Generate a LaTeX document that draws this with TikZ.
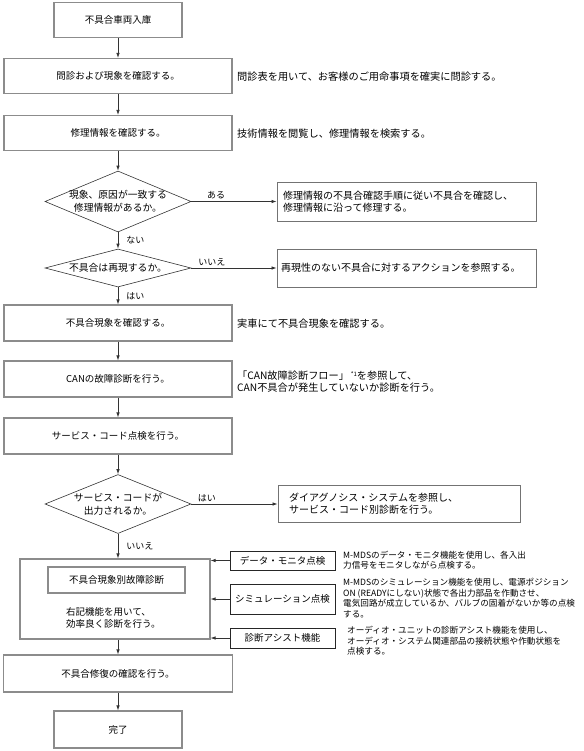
\documentclass[tikz,border=0pt]{standalone}
\usepackage{fontspec}
\newfontfamily\jpfont{Noto Sans CJK JP}
\usetikzlibrary{arrows.meta, positioning, shapes.geometric}

\begin{document}
\begin{tikzpicture}[
    x=1pt, y=-1pt,
    every node/.style={font=\jpfont\fontsize{9.5}{12}\selectfont, inner sep=0pt},
    proc/.style={draw=black!45, line width=1.1pt, minimum width=228pt, minimum height=35pt},
    term/.style={proc, minimum width=128pt},
    decision/.style={diamond, draw=black!80, line width=0.6pt, minimum width=146pt},
    dtext/.style={align=center, font=\jpfont\fontsize{9.8}{13}\selectfont},
    note/.style={draw=black!55, line width=0.9pt, align=left, inner xsep=6pt, text width=247pt,
        font=\jpfont\fontsize{10}{12}\selectfont},
    tool/.style={draw=black!85, line width=0.7pt, minimum width=105pt},
    remark/.style={anchor=west, align=left, font=\jpfont\fontsize{10.2}{12}\selectfont},
    small/.style={anchor=west, align=left, font=\jpfont\fontsize{8.6}{10.5}\selectfont},
    lbl/.style={font=\jpfont\fontsize{9}{10}\selectfont, inner sep=2pt},
    arr/.style={draw=black!80, line width=0.7pt, -{Latex[length=5pt, width=3.5pt]}}
]
    \useasboundingbox (0,0) rectangle (583,751);

    \node[term] (start) at (118, 20) {不具合車両入庫};
    \node[proc] (ask) at (118, 76) {問診および現象を確認する。};
    \node[proc] (info) at (118, 133) {修理情報を確認する。};
    \node[decision, minimum height=61pt,
        label={[dtext]center:現象、原因が一致する\\修理情報があるか。}] (d1) at (118, 201.5) {};
    \node[decision, minimum height=38pt,
        label={[dtext]center:不具合は再現するか。}] (d2) at (118, 268) {};
    \node[proc, minimum height=36pt] (check) at (118, 323) {不具合現象を確認する。};
    \node[proc, minimum height=36pt] (can) at (118, 379) {CANの故障診断を行う。};
    \node[proc, minimum height=36pt] (svc) at (118, 436) {サービス・コード点検を行う。};
    \node[decision, minimum height=59pt,
        label={[dtext]center:サービス・コードが\\出力されるか。}] (d3) at (118, 504) {};
    \node[draw=black!45, line width=1.1pt, minimum width=190pt, minimum height=80pt] (big) at (115, 599) {};
    \node[draw=black!45, line width=1.1pt, minimum width=137pt, minimum height=26pt] (sub) at (116.5, 580) {不具合現象別故障診断};
    \node[anchor=west, align=left] (subtxt) at (66, 618) {右記機能を用いて、\\効率良く診断を行う。};
    \node[proc, minimum width=229pt, minimum height=37pt] (fix) at (118, 673.5) {不具合修復の確認を行う。};
    \node[term, minimum height=37pt] (done) at (118, 729.5) {完了};

    \node[note, minimum height=39pt] (r1) at (406.5, 201.5) {修理情報の不具合確認手順に従い不具合を確認し、\\修理情報に沿って修理する。};
    \node[note, minimum height=38pt, inner xsep=4pt, text width=251pt] (r2) at (406.5, 268) {再現性のない不具合に対するアクションを参照する。};
    \node[note, minimum height=37pt, text width=220pt, inner xsep=11pt] (r3) at (399, 504) {ダイアグノシス・システムを参照し、\\サービス・コード別診断を行う。};

    \node[remark] (askr) at (237, 77) {問診表を用いて、お客様のご用命事項を確実に問診する。};
    \node[remark] (infor) at (237, 134) {技術情報を閲覧し、修理情報を検索する。};
    \node[remark] (checkr) at (237, 324) {実車にて不具合現象を確認する。};
    \node[remark] (canr) at (237, 382) {「CAN故障診断フロー」\,\raisebox{0.6ex}{\fontsize{6}{6}\selectfont *1}を参照して、\\CAN不具合が発生していないか診断を行う。};

    \node[tool, minimum height=19pt] (t1) at (282.5, 560.5) {データ・モニタ点検};
    \node[tool, minimum height=30pt] (t2) at (282.5, 599) {シミュレーション点検};
    \node[tool, minimum height=20pt] (t3) at (282.5, 638) {診断アシスト機能};
    \node[small] (t1r) at (343, 560) {M-MDSのデータ・モニタ機能を使用し、各入出\\力信号をモニタしながら点検する。};
    \node[small] (t2r) at (343, 598) {M-MDSのシミュレーション機能を使用し、電源ポジション\\ON (READYにしない)状態で各出力部品を作動させ、\\電気回路が成立しているか、バルブの固着がないか等の点検\\する。};
    \node[small] (t3r) at (347, 641) {オーディオ・ユニットの診断アシスト機能を使用し、\\オーディオ・システム関連部品の接続状態や作動状態を\\点検する。};

    \draw[arr] (start) -- (ask);
    \draw[arr] (ask) -- (info);
    \draw[arr] (info) -- (d1);
    \draw[arr] (d1) -- node[lbl, right, xshift=6pt] (no1) {ない} (d2);
    \draw[arr] (d1) -- node[lbl, above, pos=0.29] (yes1) {ある} (r1);
    \draw[arr] (d2) -- node[lbl, above, pos=0.24] (no2) {いいえ} (r2);
    \draw[arr] (d2) -- node[lbl, right, xshift=6pt] (yes2) {はい} (check);
    \draw[arr] (check) -- (can);
    \draw[arr] (can) -- (svc);
    \draw[arr] (svc) -- (d3);
    \draw[arr] (d3) -- node[lbl, above, pos=0.18] (yes3) {はい} (r3);
    \draw[arr] (d3) -- node[lbl, right, xshift=6pt] (no3) {いいえ} (d3 |- big.north);
    \draw[arr] (t1) -- (t1 -| big.east);
    \draw[arr] (t2) -- (t2 -| big.east);
    \draw[arr] (t3) -- (t3 -| big.east);
    \draw[arr] (big.south -| fix.north) -- (fix);
    \draw[arr] (fix) -- (done);
\end{tikzpicture}
\end{document}
